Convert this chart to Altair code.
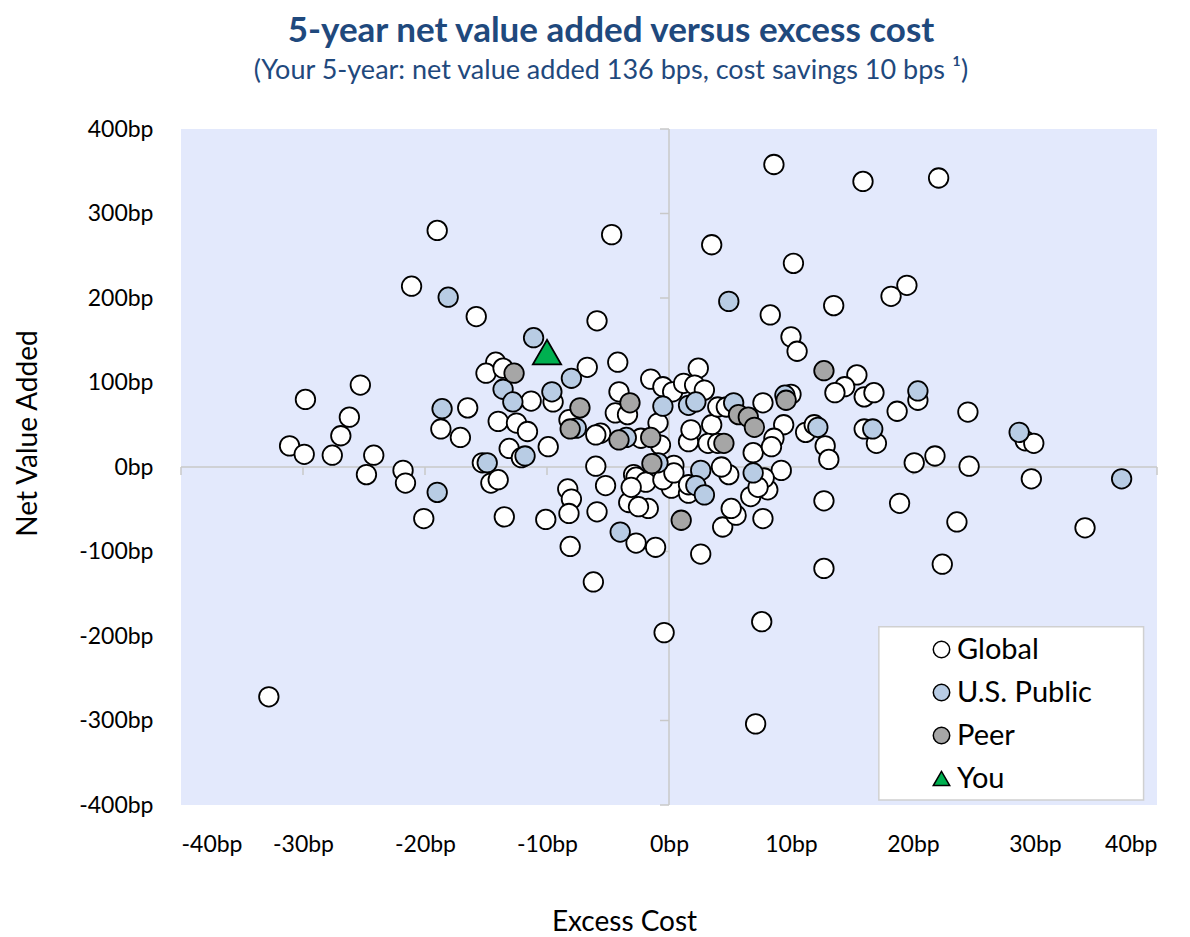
import altair as alt
import pandas as pd

# ---------------- data ----------------
global_pts = [
    (8.6, 358), (15.9, 338), (22.1, 342), (-19.0, 280), (-4.7, 275), (3.5, 263), (10.2, 241),
    (-21.1, 214), (19.5, 215), (18.2, 202), (13.5, 191), (-15.8, 178), (-5.9, 173), (8.3, 180),
    (10.0, 154), (10.5, 137), (-6.7, 118), (-4.2, 124), (-1.5, 104), (2.4, 117), (-14.2, 124),
    (-15.0, 111), (-13.6, 117), (-0.5, 95), (0.3, 89), (1.2, 99), (2.1, 97), (2.9, 91),
    (-4.1, 89), (-4.4, 64), (-3.4, 62), (-5.6, 40), (-11.3, 78), (-9.5, 77), (-8.2, 56),
    (-6.0, 38), (-16.5, 70), (-18.7, 45), (-17.1, 35), (-14.0, 54), (-12.5, 52), (-11.6, 42),
    (-13.1, 22), (-9.9, 24), (-15.3, 5), (-14.6, -19), (-14.0, -15), (-21.8, -4), (-21.6, -19),
    (-20.1, -61), (-13.5, -59), (-10.1, -62), (-8.3, -26), (-8.0, -38), (-8.2, -55), (-6.0, 1),
    (-5.2, -22), (-5.9, -53), (-8.1, -94), (-6.2, -136), (-2.7, -90), (-1.1, -95), (-3.3, -42),
    (-1.7, -49), (-2.9, -9), (0.4, 2), (0.2, -25), (1.6, -31), (2.6, -103), (4.4, -71),
    (5.5, -57), (5.1, -49), (7.7, -61), (6.7, -35), (8.1, -27), (9.2, -4), (4.9, -9), (4.3, 0),
    (-2.7, -12), (-1.9, -18), (-3.1, -24), (-0.5, -15), (0.4, -7), (1.6, -21), (7.8, -13),
    (7.3, -24), (-2.5, -47), (-2.3, 34), (-0.7, 26), (-0.9, 52), (1.6, 30), (1.8, 44), (3.5, 50),
    (4.0, 71), (4.7, 71), (7.7, 76), (9.4, 50), (8.6, 34), (6.9, 17), (8.4, 24), (3.2, 28),
    (4.0, 28), (15.4, 109), (14.4, 95), (13.6, 88), (16.0, 83), (16.8, 88), (20.4, 79),
    (18.7, 66), (24.5, 65), (10.0, 86), (11.2, 41), (11.9, 50), (12.8, 25), (13.1, 9),
    (16.0, 45), (17.0, 28), (20.1, 5), (21.8, 13), (24.6, 1), (12.7, -40), (18.9, -43),
    (23.6, -65), (29.2, 31), (29.9, 28), (29.7, -14), (34.1, -72), (22.4, -115), (12.7, -120),
    (-0.4, -196), (7.6, -183), (7.1, -304), (-32.8, -272), (-24.8, -9), (-25.3, 97),
    (-29.8, 80), (-26.2, 59), (-26.9, 37), (-31.1, 25), (-29.9, 15), (-27.6, 14), (-24.2, 14),
    (-12.1, 11),
]
global_x = [p[0] for p in global_pts]
global_y = [p[1] for p in global_pts]

us_public_x = [-18.1, 4.9, -11.1, -8.0, -13.6, -9.6, -12.8, -18.6, -0.5, 1.6, 2.2, 5.3, 9.5,
               20.4, 12.2, 16.7, 28.7, -3.5, -7.6, -11.8, -14.9, -19.0, -0.9, 2.6, 2.2, 2.9,
               6.9, -4.0, 37.1]
us_public_y = [201, 196, 153, 105, 92, 89, 77, 69, 72, 73, 77, 76, 85,
               90, 47, 45, 41, 35, 46, 13, 5, -30, 5, -4, -22, -33,
               -7, -77, -14]

peer_x = [-12.7, 12.7, -3.2, -7.3, 5.7, 6.5, 7.0, 9.6, -8.1, -4.1, -1.5, 4.5, -1.4, 1.0]
peer_y = [111, 114, 76, 70, 62, 59, 47, 79, 45, 32, 35, 28, 4, -63]

you_x = [-10]
you_y = [136]

groups = ["Global", "U.S. Public", "Peer", "You"]
x_ticks = [-40, -30, -20, -10, 0, 10, 20, 30, 40]
y_ticks = [-400, -300, -200, -100, 0, 100, 200, 300, 400]

# ---------------- build table ----------------
rows = []
for g, xs, ys in [("Global", global_x, global_y),
                  ("U.S. Public", us_public_x, us_public_y),
                  ("Peer", peer_x, peer_y),
                  ("You", you_x, you_y)]:
    for x, y in zip(xs, ys):
        rows.append({"group": g, "cost": x, "nva": y})
df = pd.DataFrame(rows)
df["order"] = df["group"].map({g: i for i, g in enumerate(groups)})

FONT = "Lato"
TITLE_BLUE = "#1F497D"

xsc = alt.Scale(domain=[-40, 40], nice=False, zero=False)
ysc = alt.Scale(domain=[-400, 400], nice=False, zero=False)

x_enc = alt.X("cost:Q", scale=xsc, title="Excess Cost",
              axis=alt.Axis(values=x_ticks, labelExpr="datum.value + 'bp'", domain=False,
                            ticks=False, grid=False, labelFontSize=23, titleFontSize=28,
                            labelPadding=28, titlePadding=52, labelFont=FONT, titleFont=FONT,
                            titleFontWeight="normal", labelColor="black", titleColor="black",
                            titleX=443))
y_enc = alt.Y("nva:Q", scale=ysc, title="Net Value Added",
              axis=alt.Axis(values=y_ticks, labelExpr="datum.value + 'bp'", domain=False,
                            ticks=False, grid=False, labelFontSize=23, titleFontSize=28,
                            labelPadding=28, titlePadding=36, labelFont=FONT, titleFont=FONT,
                            titleFontWeight="normal", labelColor="black", titleColor="black",
                            titleY=304))

# legend box drawn in data space
legend_box = alt.Chart(pd.DataFrame({"a": [0]})).mark_rect(
    fill="white", stroke="#D0D0D0", strokeWidth=1.5
).encode(x=alt.datum(17.2, scale=xsc), x2=alt.datum(38.9),
         y=alt.datum(-189, scale=ysc), y2=alt.datum(-394))

zero_v = alt.Chart(pd.DataFrame({"a": [0]})).mark_rule(color="#C8C8C8", strokeWidth=1.5).encode(
    x=alt.datum(0, scale=xsc))
zero_h = alt.Chart(pd.DataFrame({"a": [0]})).mark_rule(color="#C8C8C8", strokeWidth=1.5).encode(
    y=alt.datum(0, scale=ysc))

xt = alt.Chart(pd.DataFrame({"t": x_ticks})).mark_rule(
    color="#C8C8C8", strokeWidth=1.5, y2Offset=8).encode(
    x=alt.X("t:Q", scale=xsc), y=alt.datum(0, scale=ysc), y2=alt.datum(0))
yt = alt.Chart(pd.DataFrame({"t": y_ticks})).mark_rule(
    color="#C8C8C8", strokeWidth=1.5, x2Offset=-9).encode(
    y=alt.Y("t:Q", scale=ysc), x=alt.datum(0, scale=xsc), x2=alt.datum(0))

leg = alt.Legend(title=None, orient="none", legendX=746, legendY=506,
                 labelFontSize=29, labelFont=FONT, labelColor="black",
                 symbolSize=270, symbolStrokeWidth=1.5, symbolOpacity=1,
                 rowPadding=13, labelOffset=1, padding=0)

points = alt.Chart(df).mark_point(filled=True, strokeWidth=1.8, opacity=1).encode(
    x=x_enc,
    y=y_enc,
    fill=alt.Fill("group:N",
                  scale=alt.Scale(domain=groups, range=["#FFFFFF", "#B8CCE4", "#A6A6A6", "#00B050"]),
                  legend=leg),
    stroke=alt.Stroke("group:N",
                      scale=alt.Scale(domain=groups, range=["black", "black", "black", "black"]),
                      legend=leg),
    shape=alt.Shape("group:N",
                    scale=alt.Scale(domain=groups,
                                    range=["circle", "circle", "circle", "triangle-up"]),
                    legend=leg),
    size=alt.condition(alt.datum.group == "You", alt.value(800), alt.value(380)),
    order=alt.Order("order:Q"),
)

chart = alt.layer(legend_box, zero_v, zero_h, xt, yt, points).properties(
    width=976, height=676,
    background="white",
    padding={"left": 6, "top": 6, "right": 5, "bottom": 5},
    title=alt.TitleParams(
        text="5-year net value added versus excess cost",
        subtitle="(Your 5-year: net value added 136 bps, cost savings 10 bps ¹)",
        font=FONT, fontSize=35, fontWeight="bold", color=TITLE_BLUE,
        subtitleFont=FONT, subtitleFontSize=27, subtitleColor=TITLE_BLUE,
        subtitlePadding=9, anchor="middle", offset=34, dx=-58,
    ),
).configure_view(fill="#E3E9FC", strokeWidth=0)

chart.save("out.html", embed_options={"renderer": "svg", "actions": False})
